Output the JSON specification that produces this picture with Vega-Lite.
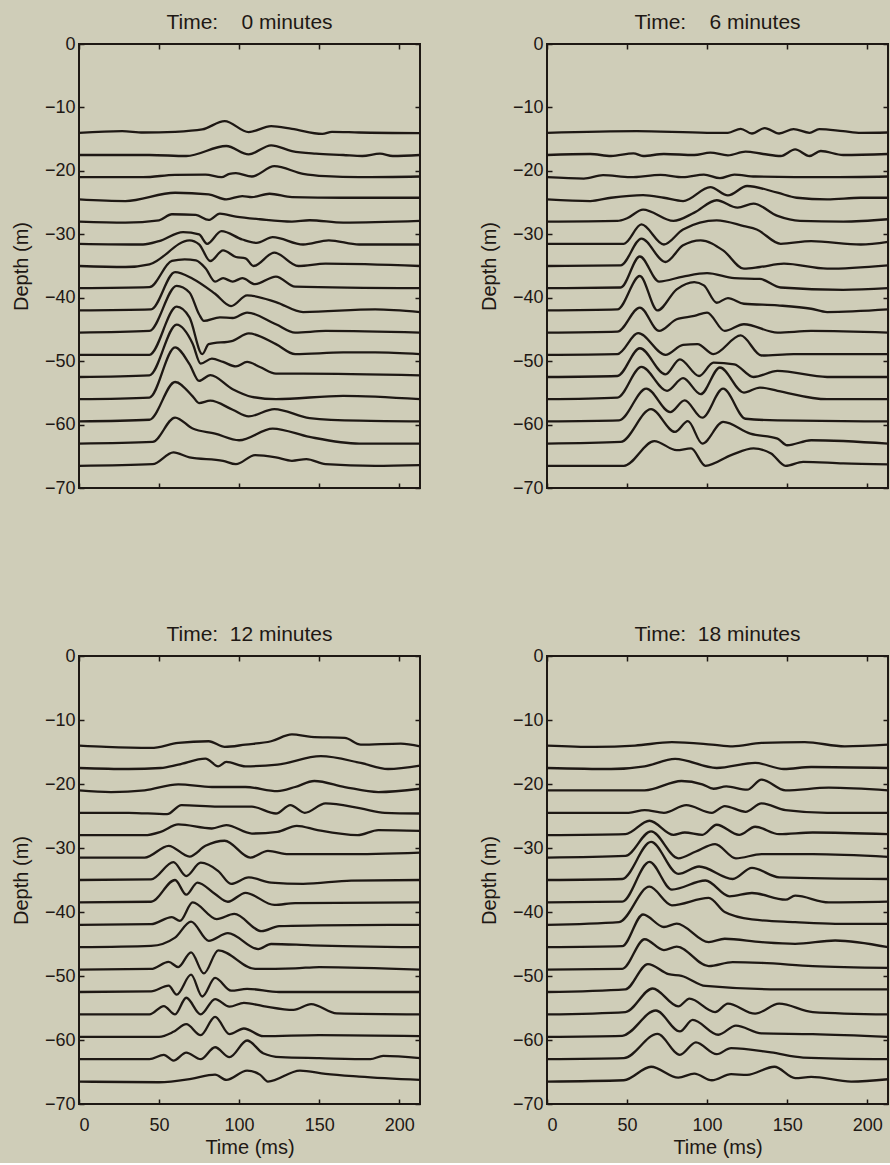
{
"$schema": "https://vega.github.io/schema/vega-lite/v6.json",
"background": "#cfcdb8",
"padding": {"left": 10, "top": 11, "right": 0, "bottom": 5},
"config": {
  "font": "Liberation Sans",
  "view": {"stroke": "#1e1814", "strokeWidth": 2},
  "axis": {"grid": false, "domain": false, "tickSize": -5, "tickColor": "#1e1814", "tickWidth": 1.5, "labelFontSize": 18, "labelColor": "#1e1814", "titleFontSize": 20, "titleFontWeight": "normal", "titleColor": "#1e1814", "labelPadding": 9, "titlePadding": 13},
  "axisBottom": {"labelPadding": 17, "titlePadding": 3},
  "title": {"fontSize": 21, "fontWeight": "normal", "color": "#1e1814", "offset": 2},
  "line": {"color": "#1e1814", "strokeWidth": 2.3, "interpolate": "monotone"}
},
"datasets": {
"p0": [
{"k":1,"t":0,"y":-14},{"k":1,"t":27,"y":-13.74},{"k":1,"t":40,"y":-13.95},{"k":1,"t":60,"y":-13.84},{"k":1,"t":77,"y":-13.47},{"k":1,"t":91,"y":-12.16},{"k":1,"t":106,"y":-13.89},{"k":1,"t":120,"y":-12.95},{"k":1,"t":133,"y":-13.37},{"k":1,"t":152,"y":-14.16},{"k":1,"t":158,"y":-13.84},{"k":1,"t":175,"y":-13.95},{"k":1,"t":213,"y":-14.05},
{"k":2,"t":0,"y":-17.5},{"k":2,"t":44,"y":-17.5},{"k":2,"t":67,"y":-17.66},{"k":2,"t":92,"y":-16.08},{"k":2,"t":106,"y":-17.39},{"k":2,"t":120,"y":-15.97},{"k":2,"t":133,"y":-16.87},{"k":2,"t":148,"y":-17.29},{"k":2,"t":165,"y":-17.5},{"k":2,"t":177,"y":-17.66},{"k":2,"t":188,"y":-17.29},{"k":2,"t":196,"y":-17.66},{"k":2,"t":213,"y":-17.5},
{"k":3,"t":0,"y":-21},{"k":3,"t":40,"y":-21},{"k":3,"t":60,"y":-20.63},{"k":3,"t":79,"y":-20.58},{"k":3,"t":89,"y":-21},{"k":3,"t":94,"y":-20.47},{"k":3,"t":98,"y":-20.37},{"k":3,"t":108,"y":-20.89},{"k":3,"t":122,"y":-19.26},{"k":3,"t":140,"y":-20.47},{"k":3,"t":154,"y":-20.84},{"k":3,"t":175,"y":-21},{"k":3,"t":213,"y":-20.89},
{"k":4,"t":0,"y":-24.5},{"k":4,"t":29,"y":-24.76},{"k":4,"t":60,"y":-23.45},{"k":4,"t":81,"y":-23.71},{"k":4,"t":92,"y":-24.5},{"k":4,"t":102,"y":-23.97},{"k":4,"t":108,"y":-24.13},{"k":4,"t":119,"y":-23.61},{"k":4,"t":133,"y":-24.13},{"k":4,"t":165,"y":-24.24},{"k":4,"t":213,"y":-24.24},
{"k":5,"t":0,"y":-28},{"k":5,"t":29,"y":-28.16},{"k":5,"t":50,"y":-27.79},{"k":5,"t":58,"y":-26.84},{"k":5,"t":73,"y":-26.95},{"k":5,"t":81,"y":-27.74},{"k":5,"t":88,"y":-26.74},{"k":5,"t":98,"y":-27.21},{"k":5,"t":113,"y":-27.63},{"k":5,"t":133,"y":-28},{"k":5,"t":144,"y":-27.79},{"k":5,"t":165,"y":-28.16},{"k":5,"t":213,"y":-27.89},
{"k":6,"t":0,"y":-31.5},{"k":6,"t":40,"y":-31.61},{"k":6,"t":50,"y":-31.08},{"k":6,"t":65,"y":-29.66},{"k":6,"t":75,"y":-30.03},{"k":6,"t":80,"y":-31.5},{"k":6,"t":89,"y":-29.5},{"k":6,"t":102,"y":-30.82},{"k":6,"t":111,"y":-31.34},{"k":6,"t":121,"y":-30.45},{"k":6,"t":140,"y":-31.61},{"k":6,"t":156,"y":-30.97},{"k":6,"t":175,"y":-31.61},{"k":6,"t":213,"y":-31.61},
{"k":7,"t":0,"y":-35},{"k":7,"t":29,"y":-35.16},{"k":7,"t":44,"y":-34.74},{"k":7,"t":69,"y":-30.95},{"k":7,"t":75,"y":-31.58},{"k":7,"t":82,"y":-34.21},{"k":7,"t":90,"y":-32.53},{"k":7,"t":98,"y":-33.58},{"k":7,"t":104,"y":-33.79},{"k":7,"t":109,"y":-35},{"k":7,"t":122,"y":-32.89},{"k":7,"t":137,"y":-35},{"k":7,"t":154,"y":-34.63},{"k":7,"t":213,"y":-35},
{"k":8,"t":0,"y":-38.5},{"k":8,"t":44,"y":-38.34},{"k":8,"t":58,"y":-34.2},{"k":8,"t":66,"y":-33.95},{"k":8,"t":73,"y":-34.1},{"k":8,"t":79,"y":-35.34},{"k":8,"t":85,"y":-37.45},{"k":8,"t":90,"y":-36.92},{"k":8,"t":96,"y":-37.45},{"k":8,"t":102,"y":-36.92},{"k":8,"t":110,"y":-37.87},{"k":8,"t":123,"y":-36.66},{"k":8,"t":135,"y":-38.24},{"k":8,"t":213,"y":-38.5},
{"k":9,"t":0,"y":-42},{"k":9,"t":45,"y":-41.84},{"k":9,"t":60,"y":-35.95},{"k":9,"t":71,"y":-37},{"k":9,"t":85,"y":-39.37},{"k":9,"t":95,"y":-41.32},{"k":9,"t":105,"y":-39.63},{"k":9,"t":123,"y":-40.68},{"k":9,"t":140,"y":-42.26},{"k":9,"t":185,"y":-41.84},{"k":9,"t":213,"y":-42.26},
{"k":10,"t":0,"y":-45.5},{"k":10,"t":44,"y":-45.24},{"k":10,"t":61,"y":-38.13},{"k":10,"t":69,"y":-39.18},{"k":10,"t":75,"y":-42.61},{"k":10,"t":78,"y":-43.66},{"k":10,"t":88,"y":-43.1},{"k":10,"t":96,"y":-43.2},{"k":10,"t":105,"y":-42.34},{"k":10,"t":123,"y":-44.18},{"k":10,"t":135,"y":-45.5},{"k":10,"t":154,"y":-45.24},{"k":10,"t":213,"y":-45.5},
{"k":11,"t":0,"y":-49},{"k":11,"t":44,"y":-49},{"k":11,"t":61,"y":-41.42},{"k":11,"t":69,"y":-43.11},{"k":11,"t":77,"y":-48.89},{"k":11,"t":81,"y":-47.32},{"k":11,"t":96,"y":-46.79},{"k":11,"t":106,"y":-45.63},{"k":11,"t":123,"y":-47.32},{"k":11,"t":135,"y":-48.89},{"k":11,"t":165,"y":-48.63},{"k":11,"t":185,"y":-48.63},{"k":11,"t":213,"y":-48.89},
{"k":12,"t":0,"y":-52.5},{"k":12,"t":44,"y":-52.24},{"k":12,"t":61,"y":-44.24},{"k":12,"t":71,"y":-47.24},{"k":12,"t":76,"y":-50.39},{"k":12,"t":83,"y":-49.61},{"k":12,"t":90,"y":-50.13},{"k":12,"t":98,"y":-50.82},{"k":12,"t":105,"y":-50.13},{"k":12,"t":113,"y":-50.92},{"k":12,"t":123,"y":-51.97},{"k":12,"t":140,"y":-51.97},{"k":12,"t":213,"y":-52.24},
{"k":13,"t":0,"y":-56},{"k":13,"t":44,"y":-55.74},{"k":13,"t":60,"y":-47.84},{"k":13,"t":69,"y":-50.47},{"k":13,"t":75,"y":-53.11},{"k":13,"t":82,"y":-52.21},{"k":13,"t":96,"y":-54.42},{"k":13,"t":108,"y":-55.63},{"k":13,"t":123,"y":-56},{"k":13,"t":165,"y":-55.47},{"k":13,"t":213,"y":-56},
{"k":14,"t":0,"y":-59.5},{"k":14,"t":44,"y":-59.24},{"k":14,"t":60,"y":-53.29},{"k":14,"t":71,"y":-55.55},{"k":14,"t":75,"y":-56.61},{"k":14,"t":82,"y":-56.24},{"k":14,"t":96,"y":-57.66},{"k":14,"t":106,"y":-58.71},{"k":14,"t":122,"y":-57.55},{"k":14,"t":144,"y":-58.97},{"k":14,"t":175,"y":-59.39},{"k":14,"t":213,"y":-59.5},
{"k":15,"t":0,"y":-63},{"k":15,"t":46,"y":-62.74},{"k":15,"t":60,"y":-58.89},{"k":15,"t":71,"y":-60.63},{"k":15,"t":85,"y":-61.42},{"k":15,"t":100,"y":-62.47},{"k":15,"t":121,"y":-60.63},{"k":15,"t":144,"y":-61.95},{"k":15,"t":175,"y":-63},{"k":15,"t":213,"y":-63},
{"k":16,"t":0,"y":-66.5},{"k":16,"t":46,"y":-66.24},{"k":16,"t":59,"y":-64.39},{"k":16,"t":69,"y":-65.18},{"k":16,"t":90,"y":-65.71},{"k":16,"t":98,"y":-66.24},{"k":16,"t":110,"y":-64.82},{"k":16,"t":123,"y":-65.18},{"k":16,"t":133,"y":-65.71},{"k":16,"t":142,"y":-65.45},{"k":16,"t":154,"y":-66.24},{"k":16,"t":185,"y":-66.5},{"k":16,"t":213,"y":-66.39}
],
"p6": [
{"k":1,"t":0,"y":-14},{"k":1,"t":56,"y":-13.74},{"k":1,"t":100,"y":-14},{"k":1,"t":113,"y":-14},{"k":1,"t":121,"y":-13.37},{"k":1,"t":128,"y":-14.11},{"k":1,"t":136,"y":-13.26},{"k":1,"t":145,"y":-14.11},{"k":1,"t":154,"y":-13.42},{"k":1,"t":164,"y":-14},{"k":1,"t":170,"y":-13.42},{"k":1,"t":185,"y":-13.74},{"k":1,"t":196,"y":-14},{"k":1,"t":213,"y":-13.95},
{"k":2,"t":0,"y":-17.5},{"k":2,"t":27,"y":-17.34},{"k":2,"t":40,"y":-17.66},{"k":2,"t":54,"y":-17.24},{"k":2,"t":60,"y":-17.66},{"k":2,"t":73,"y":-17.34},{"k":2,"t":92,"y":-17.5},{"k":2,"t":102,"y":-17.13},{"k":2,"t":113,"y":-17.55},{"k":2,"t":124,"y":-16.97},{"k":2,"t":135,"y":-17.34},{"k":2,"t":146,"y":-17.66},{"k":2,"t":155,"y":-16.61},{"k":2,"t":164,"y":-17.66},{"k":2,"t":171,"y":-16.87},{"k":2,"t":185,"y":-17.5},{"k":2,"t":213,"y":-17.34},
{"k":3,"t":0,"y":-21},{"k":3,"t":23,"y":-21.21},{"k":3,"t":35,"y":-20.68},{"k":3,"t":52,"y":-21},{"k":3,"t":71,"y":-20.63},{"k":3,"t":85,"y":-21},{"k":3,"t":98,"y":-20.58},{"k":3,"t":108,"y":-21.16},{"k":3,"t":117,"y":-20.58},{"k":3,"t":130,"y":-20.89},{"k":3,"t":175,"y":-21},{"k":3,"t":213,"y":-20.89},
{"k":4,"t":0,"y":-24.5},{"k":4,"t":27,"y":-24.76},{"k":4,"t":40,"y":-24.24},{"k":4,"t":60,"y":-23.82},{"k":4,"t":73,"y":-24.24},{"k":4,"t":85,"y":-24.76},{"k":4,"t":102,"y":-22.55},{"k":4,"t":113,"y":-23.87},{"k":4,"t":125,"y":-22.39},{"k":4,"t":144,"y":-23.45},{"k":4,"t":156,"y":-24.24},{"k":4,"t":175,"y":-24.5},{"k":4,"t":196,"y":-24.24},{"k":4,"t":213,"y":-24.24},
{"k":5,"t":0,"y":-28},{"k":5,"t":44,"y":-27.89},{"k":5,"t":50,"y":-27.47},{"k":5,"t":60,"y":-26.11},{"k":5,"t":79,"y":-27.89},{"k":5,"t":92,"y":-26.58},{"k":5,"t":106,"y":-24.63},{"k":5,"t":119,"y":-25.79},{"k":5,"t":129,"y":-25.16},{"k":5,"t":144,"y":-27.11},{"k":5,"t":158,"y":-27.89},{"k":5,"t":185,"y":-28},{"k":5,"t":213,"y":-27.63},
{"k":6,"t":0,"y":-31.5},{"k":6,"t":48,"y":-31.5},{"k":6,"t":59,"y":-28.45},{"k":6,"t":73,"y":-31.61},{"k":6,"t":85,"y":-29.24},{"k":6,"t":106,"y":-27.82},{"k":6,"t":123,"y":-28.71},{"k":6,"t":131,"y":-29.24},{"k":6,"t":146,"y":-31.5},{"k":6,"t":165,"y":-31.08},{"k":6,"t":196,"y":-31.61},{"k":6,"t":213,"y":-31.18},
{"k":7,"t":0,"y":-35},{"k":7,"t":46,"y":-34.89},{"k":7,"t":59,"y":-30.68},{"k":7,"t":74,"y":-34.37},{"k":7,"t":85,"y":-31.74},{"k":7,"t":96,"y":-30.95},{"k":7,"t":110,"y":-32.53},{"k":7,"t":123,"y":-35.42},{"k":7,"t":133,"y":-35.16},{"k":7,"t":148,"y":-34.63},{"k":7,"t":175,"y":-35.42},{"k":7,"t":213,"y":-34.89},
{"k":8,"t":0,"y":-38.5},{"k":8,"t":46,"y":-38.39},{"k":8,"t":58,"y":-33.5},{"k":8,"t":70,"y":-37.45},{"k":8,"t":85,"y":-36.66},{"k":8,"t":100,"y":-36.13},{"k":8,"t":117,"y":-36.92},{"k":8,"t":133,"y":-37.03},{"k":8,"t":146,"y":-38.39},{"k":8,"t":185,"y":-38.76},{"k":8,"t":213,"y":-38.5},
{"k":9,"t":0,"y":-42},{"k":9,"t":44,"y":-41.84},{"k":9,"t":58,"y":-36.58},{"k":9,"t":69,"y":-42},{"k":9,"t":81,"y":-38.68},{"k":9,"t":92,"y":-37.53},{"k":9,"t":98,"y":-38.05},{"k":9,"t":106,"y":-40.79},{"k":9,"t":113,"y":-40.05},{"k":9,"t":123,"y":-40.95},{"k":9,"t":144,"y":-41.21},{"k":9,"t":165,"y":-41.74},{"k":9,"t":175,"y":-42.26},{"k":9,"t":213,"y":-41.84},
{"k":10,"t":0,"y":-45.5},{"k":10,"t":44,"y":-45.34},{"k":10,"t":58,"y":-41.55},{"k":10,"t":70,"y":-45.24},{"k":10,"t":81,"y":-43.39},{"k":10,"t":92,"y":-42.87},{"k":10,"t":100,"y":-42.34},{"k":10,"t":111,"y":-45.24},{"k":10,"t":123,"y":-44.18},{"k":10,"t":144,"y":-45.5},{"k":10,"t":165,"y":-45.24},{"k":10,"t":213,"y":-45.5},
{"k":11,"t":0,"y":-49},{"k":11,"t":44,"y":-48.89},{"k":11,"t":57,"y":-45.58},{"k":11,"t":74,"y":-49},{"k":11,"t":85,"y":-47.42},{"k":11,"t":94,"y":-47.32},{"k":11,"t":104,"y":-48.89},{"k":11,"t":121,"y":-45.95},{"k":11,"t":134,"y":-49.11},{"k":11,"t":154,"y":-48.89},{"k":11,"t":213,"y":-48.89},
{"k":12,"t":0,"y":-52.5},{"k":12,"t":44,"y":-52.34},{"k":12,"t":58,"y":-47.97},{"k":12,"t":74,"y":-52.08},{"k":12,"t":83,"y":-49.71},{"k":12,"t":95,"y":-52.34},{"k":12,"t":104,"y":-50.24},{"k":12,"t":117,"y":-50.5},{"k":12,"t":129,"y":-52.5},{"k":12,"t":144,"y":-51.55},{"k":12,"t":175,"y":-52.5},{"k":12,"t":213,"y":-52.5},
{"k":13,"t":0,"y":-56},{"k":13,"t":44,"y":-55.74},{"k":13,"t":59,"y":-50.89},{"k":13,"t":75,"y":-54.68},{"k":13,"t":85,"y":-52.68},{"k":13,"t":96,"y":-55.21},{"k":13,"t":108,"y":-51},{"k":13,"t":123,"y":-54.95},{"k":13,"t":133,"y":-54.16},{"k":13,"t":144,"y":-54.68},{"k":13,"t":175,"y":-56},{"k":13,"t":213,"y":-56},
{"k":14,"t":0,"y":-59.5},{"k":14,"t":45,"y":-59.34},{"k":14,"t":62,"y":-54.34},{"k":14,"t":77,"y":-58.03},{"k":14,"t":86,"y":-56.18},{"k":14,"t":97,"y":-58.92},{"k":14,"t":110,"y":-54.34},{"k":14,"t":124,"y":-59.08},{"k":14,"t":144,"y":-59.34},{"k":14,"t":213,"y":-59.5},
{"k":15,"t":0,"y":-63},{"k":15,"t":46,"y":-62.74},{"k":15,"t":65,"y":-57.58},{"k":15,"t":80,"y":-61.16},{"k":15,"t":88,"y":-59.47},{"k":15,"t":97,"y":-63},{"k":15,"t":110,"y":-59.58},{"k":15,"t":127,"y":-61.42},{"k":15,"t":144,"y":-62.21},{"k":15,"t":150,"y":-63.26},{"k":15,"t":165,"y":-62.47},{"k":15,"t":213,"y":-63},
{"k":16,"t":0,"y":-66.5},{"k":16,"t":48,"y":-66.5},{"k":16,"t":67,"y":-62.61},{"k":16,"t":81,"y":-64.03},{"k":16,"t":90,"y":-63.76},{"k":16,"t":99,"y":-66.5},{"k":16,"t":115,"y":-64.82},{"k":16,"t":129,"y":-63.76},{"k":16,"t":140,"y":-64.55},{"k":16,"t":149,"y":-66.5},{"k":16,"t":160,"y":-65.87},{"k":16,"t":185,"y":-66.13},{"k":16,"t":213,"y":-66.29}
],
"p12": [
{"k":1,"t":0,"y":-14},{"k":1,"t":17,"y":-14.21},{"k":1,"t":45,"y":-14.37},{"k":1,"t":62,"y":-13.58},{"k":1,"t":81,"y":-13.32},{"k":1,"t":91,"y":-14.21},{"k":1,"t":104,"y":-13.84},{"k":1,"t":120,"y":-13.32},{"k":1,"t":133,"y":-12.26},{"k":1,"t":145,"y":-12.63},{"k":1,"t":166,"y":-12.79},{"k":1,"t":176,"y":-13.84},{"k":1,"t":201,"y":-13.68},{"k":1,"t":213,"y":-14.11},
{"k":2,"t":0,"y":-17.5},{"k":2,"t":31,"y":-17.66},{"k":2,"t":51,"y":-17.5},{"k":2,"t":62,"y":-16.97},{"k":2,"t":79,"y":-16.03},{"k":2,"t":87,"y":-17.24},{"k":2,"t":92,"y":-16.55},{"k":2,"t":104,"y":-17.24},{"k":2,"t":124,"y":-16.97},{"k":2,"t":151,"y":-15.66},{"k":2,"t":176,"y":-16.71},{"k":2,"t":193,"y":-17.66},{"k":2,"t":213,"y":-17.13},
{"k":3,"t":0,"y":-21},{"k":3,"t":20,"y":-21.26},{"k":3,"t":41,"y":-21},{"k":3,"t":62,"y":-20.05},{"k":3,"t":83,"y":-20.47},{"k":3,"t":104,"y":-20.47},{"k":3,"t":124,"y":-21.11},{"k":3,"t":135,"y":-20.47},{"k":3,"t":147,"y":-19.53},{"k":3,"t":166,"y":-20.47},{"k":3,"t":187,"y":-21.26},{"k":3,"t":213,"y":-20.74},
{"k":4,"t":0,"y":-24.5},{"k":4,"t":31,"y":-24.5},{"k":4,"t":55,"y":-24.71},{"k":4,"t":64,"y":-23.29},{"k":4,"t":87,"y":-23.55},{"k":4,"t":108,"y":-23.55},{"k":4,"t":123,"y":-24.61},{"k":4,"t":132,"y":-23.29},{"k":4,"t":141,"y":-24.5},{"k":4,"t":154,"y":-23.03},{"k":4,"t":176,"y":-23.82},{"k":4,"t":191,"y":-24.5},{"k":4,"t":213,"y":-24.61},
{"k":5,"t":0,"y":-28},{"k":5,"t":41,"y":-28},{"k":5,"t":51,"y":-27.47},{"k":5,"t":62,"y":-26.32},{"k":5,"t":83,"y":-26.95},{"k":5,"t":92,"y":-26.42},{"k":5,"t":108,"y":-27.74},{"k":5,"t":124,"y":-27.47},{"k":5,"t":136,"y":-26.53},{"k":5,"t":149,"y":-27.21},{"k":5,"t":174,"y":-28},{"k":5,"t":187,"y":-27.21},{"k":5,"t":213,"y":-27.32},
{"k":6,"t":0,"y":-31.5},{"k":6,"t":41,"y":-31.5},{"k":6,"t":56,"y":-29.66},{"k":6,"t":69,"y":-31.34},{"k":6,"t":79,"y":-29.66},{"k":6,"t":91,"y":-28.87},{"k":6,"t":107,"y":-31.5},{"k":6,"t":118,"y":-30.45},{"k":6,"t":131,"y":-30.97},{"k":6,"t":166,"y":-30.97},{"k":6,"t":213,"y":-30.71},
{"k":7,"t":0,"y":-35},{"k":7,"t":45,"y":-34.9},{"k":7,"t":59,"y":-32.2},{"k":7,"t":67,"y":-34.4},{"k":7,"t":76,"y":-32.3},{"k":7,"t":87,"y":-33.6},{"k":7,"t":95,"y":-35.6},{"k":7,"t":106,"y":-34.6},{"k":7,"t":120,"y":-35.4},{"k":7,"t":140,"y":-35.6},{"k":7,"t":170,"y":-35.1},{"k":7,"t":213,"y":-35},
{"k":8,"t":0,"y":-38.5},{"k":8,"t":45,"y":-38.4},{"k":8,"t":60,"y":-35},{"k":8,"t":67,"y":-37.3},{"k":8,"t":74,"y":-35.4},{"k":8,"t":85,"y":-37.2},{"k":8,"t":93,"y":-38.4},{"k":8,"t":104,"y":-37},{"k":8,"t":122,"y":-38.9},{"k":8,"t":135,"y":-38.6},{"k":8,"t":213,"y":-38.5},
{"k":9,"t":0,"y":-42},{"k":9,"t":45,"y":-41.9},{"k":9,"t":58,"y":-40.8},{"k":9,"t":63,"y":-41.4},{"k":9,"t":71,"y":-38.5},{"k":9,"t":86,"y":-41.1},{"k":9,"t":97,"y":-40.3},{"k":9,"t":114,"y":-43},{"k":9,"t":125,"y":-42.2},{"k":9,"t":150,"y":-42.1},{"k":9,"t":213,"y":-42},
{"k":10,"t":0,"y":-45.5},{"k":10,"t":45,"y":-45.3},{"k":10,"t":60,"y":-44},{"k":10,"t":70,"y":-41.5},{"k":10,"t":81,"y":-44.5},{"k":10,"t":93,"y":-43.3},{"k":10,"t":112,"y":-45.8},{"k":10,"t":120,"y":-45},{"k":10,"t":145,"y":-45.2},{"k":10,"t":213,"y":-45.5},
{"k":11,"t":0,"y":-49},{"k":11,"t":45,"y":-48.9},{"k":11,"t":56,"y":-47.8},{"k":11,"t":62,"y":-48.6},{"k":11,"t":70,"y":-46.3},{"k":11,"t":78,"y":-49.6},{"k":11,"t":87,"y":-46},{"k":11,"t":110,"y":-48.9},{"k":11,"t":135,"y":-48.8},{"k":11,"t":150,"y":-48.6},{"k":11,"t":213,"y":-49},
{"k":12,"t":0,"y":-52.5},{"k":12,"t":45,"y":-52.4},{"k":12,"t":56,"y":-51.5},{"k":12,"t":61,"y":-52.9},{"k":12,"t":70,"y":-49.8},{"k":12,"t":77,"y":-53.2},{"k":12,"t":85,"y":-50.3},{"k":12,"t":95,"y":-52.3},{"k":12,"t":105,"y":-52},{"k":12,"t":125,"y":-52.5},{"k":12,"t":213,"y":-52.5},
{"k":13,"t":0,"y":-56},{"k":13,"t":44,"y":-56},{"k":13,"t":53,"y":-54.7},{"k":13,"t":60,"y":-56},{"k":13,"t":67,"y":-53.4},{"k":13,"t":76,"y":-56},{"k":13,"t":85,"y":-53.6},{"k":13,"t":94,"y":-54.8},{"k":13,"t":103,"y":-54.2},{"k":13,"t":115,"y":-54.7},{"k":13,"t":134,"y":-55.3},{"k":13,"t":145,"y":-54.4},{"k":13,"t":161,"y":-55.85},{"k":13,"t":213,"y":-56},
{"k":14,"t":0,"y":-59.5},{"k":14,"t":50,"y":-59.5},{"k":14,"t":59,"y":-58.72},{"k":14,"t":67,"y":-57.52},{"k":14,"t":76,"y":-59.24},{"k":14,"t":85,"y":-56.38},{"k":14,"t":94,"y":-59.08},{"k":14,"t":103,"y":-58.2},{"k":14,"t":115,"y":-59.4},{"k":14,"t":150,"y":-59.24},{"k":14,"t":213,"y":-59.4},
{"k":15,"t":0,"y":-63},{"k":15,"t":44,"y":-63},{"k":15,"t":53,"y":-62.32},{"k":15,"t":59,"y":-63.21},{"k":15,"t":67,"y":-61.96},{"k":15,"t":76,"y":-63},{"k":15,"t":85,"y":-61.13},{"k":15,"t":94,"y":-62.69},{"k":15,"t":105,"y":-60.08},{"k":15,"t":115,"y":-62.06},{"k":15,"t":126,"y":-62.69},{"k":15,"t":150,"y":-62.84},{"k":15,"t":182,"y":-63},{"k":15,"t":190,"y":-62.48},{"k":15,"t":213,"y":-62.84},
{"k":16,"t":0,"y":-66.5},{"k":16,"t":50,"y":-66.6},{"k":16,"t":70,"y":-66.08},{"k":16,"t":85,"y":-65.41},{"k":16,"t":92,"y":-66.24},{"k":16,"t":105,"y":-64.78},{"k":16,"t":113,"y":-65.41},{"k":16,"t":118,"y":-66.5},{"k":16,"t":138,"y":-64.78},{"k":16,"t":154,"y":-65.3},{"k":16,"t":175,"y":-65.72},{"k":16,"t":213,"y":-66.24}
],
"p18": [
{"k":1,"t":0,"y":-14},{"k":1,"t":30,"y":-14.21},{"k":1,"t":55,"y":-14},{"k":1,"t":78,"y":-13.47},{"k":1,"t":103,"y":-13.84},{"k":1,"t":116,"y":-14.11},{"k":1,"t":134,"y":-13.58},{"k":1,"t":161,"y":-13.47},{"k":1,"t":186,"y":-14.11},{"k":1,"t":213,"y":-13.84},
{"k":2,"t":0,"y":-17.5},{"k":2,"t":40,"y":-17.66},{"k":2,"t":61,"y":-17.24},{"k":2,"t":80,"y":-16.08},{"k":2,"t":106,"y":-17.5},{"k":2,"t":130,"y":-16.71},{"k":2,"t":148,"y":-17.66},{"k":2,"t":165,"y":-17.34},{"k":2,"t":213,"y":-17.5},
{"k":3,"t":0,"y":-21},{"k":3,"t":61,"y":-21},{"k":3,"t":84,"y":-19.53},{"k":3,"t":97,"y":-20.05},{"k":3,"t":104,"y":-20.74},{"k":3,"t":112,"y":-20.37},{"k":3,"t":125,"y":-20.89},{"k":3,"t":134,"y":-19.32},{"k":3,"t":149,"y":-21},{"k":3,"t":176,"y":-20.58},{"k":3,"t":213,"y":-21},
{"k":4,"t":0,"y":-24.5},{"k":4,"t":51,"y":-24.5},{"k":4,"t":61,"y":-24.08},{"k":4,"t":73,"y":-24.5},{"k":4,"t":87,"y":-23.29},{"k":4,"t":103,"y":-24.5},{"k":4,"t":111,"y":-23.45},{"k":4,"t":124,"y":-24.34},{"k":4,"t":134,"y":-23.03},{"k":4,"t":149,"y":-24.08},{"k":4,"t":175,"y":-24.5},{"k":4,"t":213,"y":-24.5},
{"k":5,"t":0,"y":-28},{"k":5,"t":49,"y":-27.84},{"k":5,"t":64,"y":-25.74},{"k":5,"t":79,"y":-27.95},{"k":5,"t":86,"y":-27.58},{"k":5,"t":97,"y":-27.95},{"k":5,"t":106,"y":-26.37},{"k":5,"t":120,"y":-27.95},{"k":5,"t":130,"y":-26.68},{"k":5,"t":145,"y":-27.84},{"k":5,"t":166,"y":-27.58},{"k":5,"t":213,"y":-27.84},
{"k":6,"t":0,"y":-31.5},{"k":6,"t":49,"y":-31.24},{"k":6,"t":65,"y":-27.39},{"k":6,"t":82,"y":-31.61},{"k":6,"t":93,"y":-30.55},{"k":6,"t":105,"y":-29.39},{"k":6,"t":118,"y":-31.61},{"k":6,"t":134,"y":-30.97},{"k":6,"t":166,"y":-30.97},{"k":6,"t":213,"y":-31.39},
{"k":7,"t":0,"y":-35},{"k":7,"t":47,"y":-34.84},{"k":7,"t":65,"y":-29.05},{"k":7,"t":82,"y":-34.05},{"k":7,"t":95,"y":-32.89},{"k":7,"t":116,"y":-34.84},{"k":7,"t":128,"y":-33.11},{"k":7,"t":145,"y":-34.58},{"k":7,"t":213,"y":-34.84},
{"k":8,"t":0,"y":-38.5},{"k":8,"t":47,"y":-38.39},{"k":8,"t":64,"y":-32.18},{"k":8,"t":78,"y":-36.5},{"k":8,"t":99,"y":-35.08},{"k":8,"t":114,"y":-37.55},{"k":8,"t":128,"y":-37.03},{"k":8,"t":149,"y":-38.08},{"k":8,"t":155,"y":-37.45},{"k":8,"t":176,"y":-38.5},{"k":8,"t":213,"y":-38.39},
{"k":9,"t":0,"y":-42},{"k":9,"t":45,"y":-41.58},{"k":9,"t":64,"y":-36.05},{"k":9,"t":78,"y":-38.95},{"k":9,"t":101,"y":-37.79},{"k":9,"t":111,"y":-40},{"k":9,"t":128,"y":-41.16},{"k":9,"t":155,"y":-41.58},{"k":9,"t":180,"y":-41.84},{"k":9,"t":213,"y":-41.84},
{"k":10,"t":0,"y":-45.5},{"k":10,"t":47,"y":-45.34},{"k":10,"t":60,"y":-40.39},{"k":10,"t":73,"y":-42.34},{"k":10,"t":81,"y":-41.82},{"k":10,"t":101,"y":-44.71},{"k":10,"t":111,"y":-44.18},{"k":10,"t":134,"y":-44.71},{"k":10,"t":155,"y":-44.97},{"k":10,"t":180,"y":-44.45},{"k":10,"t":213,"y":-45.5},
{"k":11,"t":0,"y":-49},{"k":11,"t":47,"y":-48.89},{"k":11,"t":61,"y":-44.26},{"k":11,"t":73,"y":-45.95},{"k":11,"t":81,"y":-45.42},{"k":11,"t":101,"y":-48.47},{"k":11,"t":116,"y":-47.84},{"k":11,"t":134,"y":-47.95},{"k":11,"t":166,"y":-48.47},{"k":11,"t":213,"y":-48.74},
{"k":12,"t":0,"y":-52.5},{"k":12,"t":49,"y":-52.08},{"k":12,"t":63,"y":-48.13},{"k":12,"t":76,"y":-49.71},{"k":12,"t":84,"y":-49.97},{"k":12,"t":99,"y":-51.55},{"k":12,"t":145,"y":-52.08},{"k":12,"t":213,"y":-52.08},
{"k":13,"t":0,"y":-56},{"k":13,"t":49,"y":-55.63},{"k":13,"t":66,"y":-51.95},{"k":13,"t":82,"y":-54.74},{"k":13,"t":89,"y":-53.53},{"k":13,"t":105,"y":-55.63},{"k":13,"t":113,"y":-54.32},{"k":13,"t":130,"y":-55.89},{"k":13,"t":145,"y":-54.32},{"k":13,"t":166,"y":-55.63},{"k":13,"t":213,"y":-56},
{"k":14,"t":0,"y":-59.5},{"k":14,"t":47,"y":-59.34},{"k":14,"t":68,"y":-55.39},{"k":14,"t":83,"y":-58.66},{"k":14,"t":91,"y":-56.87},{"k":14,"t":107,"y":-59.18},{"k":14,"t":118,"y":-57.76},{"k":14,"t":134,"y":-58.97},{"k":14,"t":166,"y":-59.08},{"k":14,"t":213,"y":-59.5},
{"k":15,"t":0,"y":-63},{"k":15,"t":48,"y":-62.84},{"k":15,"t":69,"y":-59.05},{"k":15,"t":83,"y":-62.32},{"k":15,"t":93,"y":-60.37},{"k":15,"t":106,"y":-62.21},{"k":15,"t":115,"y":-61.26},{"k":15,"t":140,"y":-61.95},{"k":15,"t":160,"y":-62.74},{"k":15,"t":213,"y":-63},
{"k":16,"t":0,"y":-66.5},{"k":16,"t":48,"y":-66.29},{"k":16,"t":65,"y":-64.18},{"k":16,"t":82,"y":-65.87},{"k":16,"t":92,"y":-65.24},{"k":16,"t":103,"y":-66.29},{"k":16,"t":115,"y":-65.34},{"k":16,"t":125,"y":-65.45},{"k":16,"t":142,"y":-64.18},{"k":16,"t":155,"y":-65.97},{"k":16,"t":165,"y":-65.76},{"k":16,"t":190,"y":-66.5},{"k":16,"t":213,"y":-66.13}
]
},
"columns": 2,
"spacing": {"row": 168, "column": 127},
"bounds": "flush",
"concat": [
{"title": "Time:\u00a0\u00a0\u00a0\u00a00 minutes", "width": 341, "height": 444, "data": {"name": "p0"},
 "layer": [
  {"mark": "line", "encoding": {
   "x": {"field": "t", "type": "quantitative", "scale": {"domain": [0, 213], "nice": false, "zero": false}, "axis": {"values": [0, 50, 100, 150, 200], "labels": false, "title": null}},
   "y": {"field": "y", "type": "quantitative", "scale": {"domain": [-70, 0], "nice": false, "zero": false}, "axis": {"values": [0, -10, -20, -30, -40, -50, -60, -70], "title": "Depth (m)"}},
   "detail": {"field": "k"}}},
  {"mark": {"type": "line", "opacity": 0}, "encoding": {
   "x": {"field": "t", "type": "quantitative", "scale": {"domain": [0, 213], "nice": false, "zero": false}, "axis": {"orient": "top", "values": [0, 50, 100, 150, 200], "labels": false, "title": null}},
   "y": {"field": "y", "type": "quantitative", "scale": {"domain": [-70, 0], "nice": false, "zero": false}, "axis": {"orient": "right", "values": [0, -10, -20, -30, -40, -50, -60, -70], "labels": false, "title": null}},
   "detail": {"field": "k"}}}
 ],
 "resolve": {"axis": {"x": "independent", "y": "independent"}}},
{"title": "Time:\u00a0\u00a0\u00a0\u00a06 minutes", "width": 341, "height": 444, "data": {"name": "p6"},
 "layer": [
  {"mark": "line", "encoding": {
   "x": {"field": "t", "type": "quantitative", "scale": {"domain": [0, 213], "nice": false, "zero": false}, "axis": {"values": [0, 50, 100, 150, 200], "labels": false, "title": null}},
   "y": {"field": "y", "type": "quantitative", "scale": {"domain": [-70, 0], "nice": false, "zero": false}, "axis": {"values": [0, -10, -20, -30, -40, -50, -60, -70], "title": "Depth (m)"}},
   "detail": {"field": "k"}}},
  {"mark": {"type": "line", "opacity": 0}, "encoding": {
   "x": {"field": "t", "type": "quantitative", "scale": {"domain": [0, 213], "nice": false, "zero": false}, "axis": {"orient": "top", "values": [0, 50, 100, 150, 200], "labels": false, "title": null}},
   "y": {"field": "y", "type": "quantitative", "scale": {"domain": [-70, 0], "nice": false, "zero": false}, "axis": {"orient": "right", "values": [0, -10, -20, -30, -40, -50, -60, -70], "labels": false, "title": null}},
   "detail": {"field": "k"}}}
 ],
 "resolve": {"axis": {"x": "independent", "y": "independent"}}},
{"title": "Time:\u00a0\u00a012 minutes", "width": 341, "height": 448, "data": {"name": "p12"},
 "layer": [
  {"mark": "line", "encoding": {
   "x": {"field": "t", "type": "quantitative", "scale": {"domain": [0, 213], "nice": false, "zero": false}, "axis": {"values": [0, 50, 100, 150, 200], "title": "Time (ms)"}},
   "y": {"field": "y", "type": "quantitative", "scale": {"domain": [-70, 0], "nice": false, "zero": false}, "axis": {"values": [0, -10, -20, -30, -40, -50, -60, -70], "title": "Depth (m)"}},
   "detail": {"field": "k"}}},
  {"mark": {"type": "line", "opacity": 0}, "encoding": {
   "x": {"field": "t", "type": "quantitative", "scale": {"domain": [0, 213], "nice": false, "zero": false}, "axis": {"orient": "top", "values": [0, 50, 100, 150, 200], "labels": false, "title": null}},
   "y": {"field": "y", "type": "quantitative", "scale": {"domain": [-70, 0], "nice": false, "zero": false}, "axis": {"orient": "right", "values": [0, -10, -20, -30, -40, -50, -60, -70], "labels": false, "title": null}},
   "detail": {"field": "k"}}}
 ],
 "resolve": {"axis": {"x": "independent", "y": "independent"}}},
{"title": "Time:\u00a0\u00a018 minutes", "width": 341, "height": 448, "data": {"name": "p18"},
 "layer": [
  {"mark": "line", "encoding": {
   "x": {"field": "t", "type": "quantitative", "scale": {"domain": [0, 213], "nice": false, "zero": false}, "axis": {"values": [0, 50, 100, 150, 200], "title": "Time (ms)"}},
   "y": {"field": "y", "type": "quantitative", "scale": {"domain": [-70, 0], "nice": false, "zero": false}, "axis": {"values": [0, -10, -20, -30, -40, -50, -60, -70], "title": "Depth (m)"}},
   "detail": {"field": "k"}}},
  {"mark": {"type": "line", "opacity": 0}, "encoding": {
   "x": {"field": "t", "type": "quantitative", "scale": {"domain": [0, 213], "nice": false, "zero": false}, "axis": {"orient": "top", "values": [0, 50, 100, 150, 200], "labels": false, "title": null}},
   "y": {"field": "y", "type": "quantitative", "scale": {"domain": [-70, 0], "nice": false, "zero": false}, "axis": {"orient": "right", "values": [0, -10, -20, -30, -40, -50, -60, -70], "labels": false, "title": null}},
   "detail": {"field": "k"}}}
 ],
 "resolve": {"axis": {"x": "independent", "y": "independent"}}}
]
}
